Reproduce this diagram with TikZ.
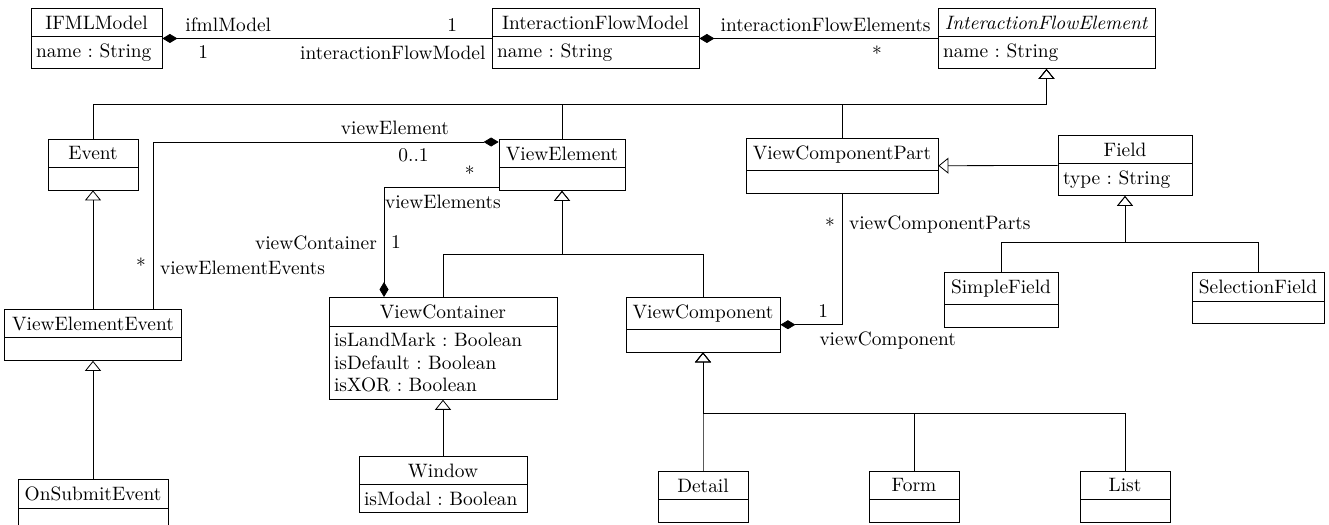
\documentclass[tikz,border=0pt]{standalone}
\usetikzlibrary{shapes.multipart, arrows.meta}

\begin{document}
\begin{tikzpicture}[
    x=0.5pt, y=-0.5pt,
    font=\fontsize{9.7}{11.3}\selectfont,
    umlclass/.style = {draw, rectangle split, rectangle split parts=2, anchor=north,
      align=left, inner xsep=2.5pt, inner ysep=3.4pt},
    inherit/.style = {-{Triangle[open, width=8pt, length=5pt]}},
    compo/.style = {{Diamond[width=4.5pt, length=7.5pt]}-}
  ]
  \useasboundingbox (0,0) rectangle (1329,525);
  % Top row.
  \node[umlclass, text width=60.5pt] (ifml) at (96.5,8) {\makebox[\hsize]{IFMLModel}\nodepart{two}name~:~String};
  \node[umlclass, text width=98.5pt] (ifm) at (595.5,8) {\makebox[\hsize]{InteractionFlowModel}\nodepart{two}name~:~String};
  \node[umlclass, text width=103.5pt] (ife) at (1046.5,8) {\makebox[\hsize]{\textit{InteractionFlowElement}}\nodepart{two}name~:~String};
  % Level 1.
  \node[umlclass, text width=40pt] (event) at (93,139) {\makebox[\hsize]{Event}\nodepart{two}\vphantom{x}};
  \node[umlclass, text width=58pt] (ve) at (562,139) {\makebox[\hsize]{ViewElement}\nodepart{two}\vphantom{x}};
  \node[umlclass, text width=91pt] (vcp) at (842,138) {\makebox[\hsize]{ViewComponentPart}\nodepart{two}\vphantom{x}};
  \node[umlclass, text width=62pt] (field) at (1125,135) {\makebox[\hsize]{Field}\nodepart{two}type~:~String};
  % Level 2.
  \node[umlclass, text width=52pt] (sf) at (1001,272) {\makebox[\hsize]{SimpleField}\nodepart{two}\vphantom{x}};
  \node[umlclass, text width=61pt] (self) at (1258,272) {\makebox[\hsize]{SelectionField}\nodepart{two}\vphantom{x}};
  \node[umlclass, text width=83.5pt] (vee) at (93,309) {\makebox[\hsize]{ViewElementEvent}\nodepart{two}\vphantom{x}};
  \node[umlclass, text width=109pt] (vc) at (443,297) {\makebox[\hsize]{ViewContainer}\nodepart{two}isLandMark~:~Boolean\\isDefault~:~Boolean\\isXOR~:~Boolean};
  \node[umlclass, text width=72pt] (vcomp) at (703,297) {\makebox[\hsize]{ViewComponent}\nodepart{two}\vphantom{x}};
  % Level 3.
  \node[umlclass, text width=70pt] (ose) at (93,479) {\makebox[\hsize]{OnSubmitEvent}\nodepart{two}\vphantom{x}};
  \node[umlclass, text width=79pt] (win) at (443,456) {\makebox[\hsize]{Window}\nodepart{two}isModal~:~Boolean};
  \node[umlclass, text width=40pt] (detail) at (703,471) {\makebox[\hsize]{Detail}\nodepart{two}\vphantom{x}};
  \node[umlclass, text width=40pt] (form) at (914,471) {\makebox[\hsize]{Form}\nodepart{two}\vphantom{x}};
  \node[umlclass, text width=40pt] (list) at (1125,471) {\makebox[\hsize]{List}\nodepart{two}\vphantom{x}};

  \coordinate (feBus) at (1046.5,104);
  \coordinate (veBus) at (562,254);
  \coordinate (fBus) at (1125,242);
  \coordinate (vcBus) at (703,413);

  \draw[compo] (ifml.east) -- (ifm.west)
    node[pos=0.2, above] {ifmlModel}
    node[pos=0.124, below] {1}
    node[pos=0.88, above] {1}
    node[pos=0.7, below] {interactionFlowModel};
  \draw[compo] (ifm.east) -- (ife.west)
    node[pos=1, above left] {interactionFlowElements}
    node[pos=0.745, below] {*};
  \draw[inherit] (event.north) |- (feBus) -- (ife.south);
  \draw[inherit] (ve.north) |- (feBus) -- (ife.south);
  \draw[inherit] (vcp.north) |- (feBus) -- (ife.south);
  \draw[inherit] (vee.north) -- (event.south);
  \draw[inherit] (ose.north) -- (vee.south);
  \draw[compo] ([yshift=-1.5pt]ve.north west) -| ([xshift=30pt]vee.north)
    node[pos=0.15, above] {viewElement}
    node[pos=0.123, below] {0..1}
    node[pos=0.868, left] {*}
    node[pos=0.877, right] {viewElementEvents};
  \draw[compo] ([xshift=-29.5pt]vc.north) |- ([yshift=1.5pt]ve.south west)
    node[pos=0.25, left] {viewContainer}
    node[pos=0.25, right] {1}
    node[pos=0.874, above] {*}
    node[pos=0.757, below] {viewElements};
  \draw[inherit] (vc.north) |- (veBus) -- (ve.south);
  \draw[inherit] (vcomp.north) |- (veBus) -- (ve.south);
  \draw[inherit] (win.north) -- (vc.south);
  \draw[compo] (vcomp.east) -| (vcp.south)
    node[pos=0.347, above] {1}
    node[pos=0.26, below right] {viewComponent}
    node[pos=0.88, left] {*}
    node[pos=0.88, right] {viewComponentParts};
  \draw[inherit] (field.west) -- (vcp.east);
  \draw[inherit] (sf.north) |- (fBus) -- (field.south);
  \draw[inherit] (self.north) |- (fBus) -- (field.south);
  \draw[inherit] (detail.north) |- (vcBus) -- (vcomp.south);
  \draw[inherit] (form.north) |- (vcBus) -- (vcomp.south);
  \draw[inherit] (list.north) |- (vcBus) -- (vcomp.south);
\end{tikzpicture}
\end{document}
